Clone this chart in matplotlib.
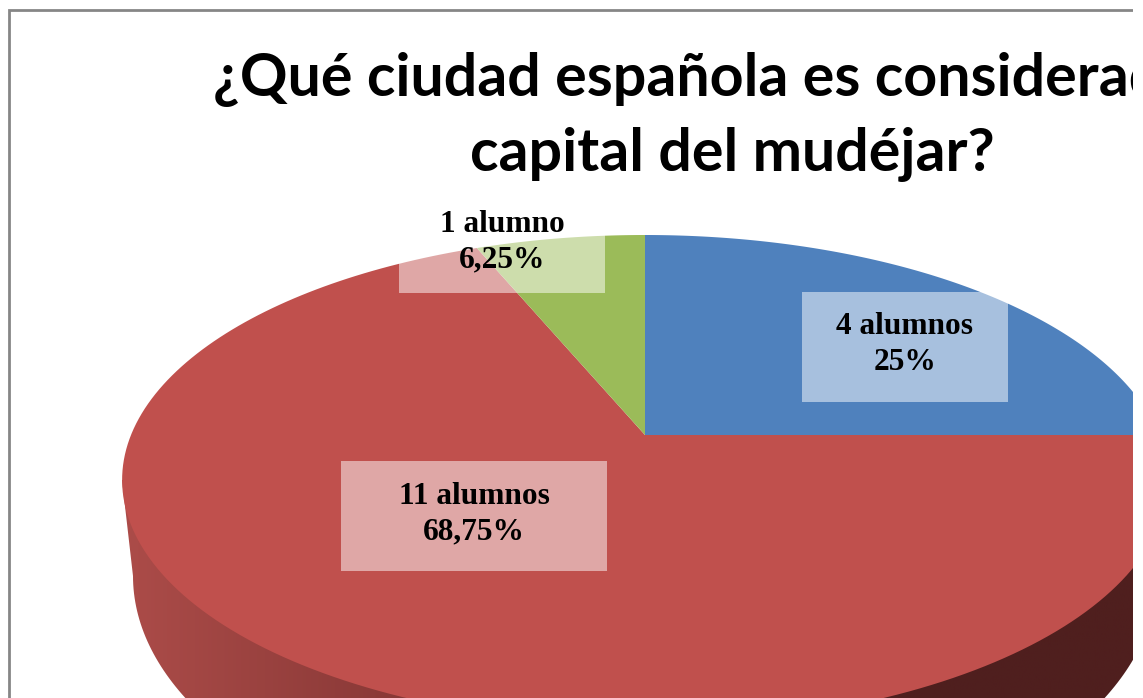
# plot.py
# Cropped 3D pie: question about the capital of mudejar art
import numpy as np
import matplotlib
matplotlib.use('Agg')
import matplotlib.pyplot as plt
from matplotlib.colors import LinearSegmentedColormap
from matplotlib.patches import Polygon, Rectangle

TITLE      = '¿Qué ciudad española es considerada la\ncapital del mudéjar?'
ALUMNOS    = [4, 11, 1]
COUNT_TEXT = ['4 alumnos', '11 alumnos', '1 alumno']
PCT_TEXT   = ['25%', '68,75%', '6,25%']
COLORS     = ['#4F81BD', '#C0504D', '#9BBB59']

# label boxes, pixels: left, top, width, height
BOXES = [(802, 292, 206, 110), (341, 461, 266, 110), (399, 183, 206, 110)]
# vertical text centre of the two lines in each box
TEXT_Y = [(327, 362), (496, 532), (224, 260)]

# pie geometry in pixels
APEX_X, APEX_Y = 645, 435
HALF_W = 514
K = 90 / 490
B = 200 * (1 + K)
WALL_CY, WALL_RX, WALL_RY = 576, 512, 277


def disc(theta):
    # theta clockwise from 12 o'clock; far edge of the disc is foreshortened
    u, v = np.sin(theta), np.cos(theta)
    w = 1 + K * v
    return APEX_X + HALF_W * u / w, APEX_Y - B * v / w


fig = plt.figure(figsize=(11.43, 6.98), dpi=100, facecolor='white')
ax = fig.add_axes([0, 0, 1133 / 1143, 1])
ax.axis('off')

# ── side wall ────────────────────────────────────────────────────────────────
t = np.linspace(np.pi, 0, 200)
wall_x = np.r_[122, APEX_X + WALL_RX * np.cos(t), 1168]
wall_y = np.r_[480, WALL_CY + WALL_RY * np.sin(t), 480]
wall_cmap = LinearSegmentedColormap.from_list('wall', [
    (0.0, '#AC4C49'), (0.27, '#883836'), (0.75, '#4F1F1E'), (1.0, '#4F1F1E')])
img = ax.imshow(np.linspace(0, 1, 512)[None, :], cmap=wall_cmap, aspect='auto',
                extent=(122, 1168, 698, 400), zorder=1)
img.set_clip_path(Polygon(np.c_[wall_x, wall_y], transform=ax.transData))

# ── top surface ──────────────────────────────────────────────────────────────
start = 0.0
total = sum(ALUMNOS)
for val, col in zip(ALUMNOS, COLORS):
    end = start + val / total * 2 * np.pi
    x, y = disc(np.linspace(start, end, 200))
    ax.fill(np.r_[APEX_X, x], np.r_[APEX_Y, y], color=col, lw=0, zorder=2)
    start = end

# ── data labels ──────────────────────────────────────────────────────────────
for (bx, by, bw, bh), (y1, y2), count, pct in zip(BOXES, TEXT_Y, COUNT_TEXT, PCT_TEXT):
    ax.add_patch(Rectangle((bx, by), bw, bh, facecolor='white', alpha=0.5,
                           lw=0, zorder=3))
    ax.text(bx + bw / 2, y1, count, family='Liberation Serif',
            weight='bold', fontsize=22.6, ha='center', va='center', zorder=4)
    ax.text(bx + bw / 2, y2, pct, family='Liberation Serif',
            weight='bold', fontsize=22.6, ha='center', va='center', zorder=4)

# ── title and chart frame ────────────────────────────────────────────────────
ax.text(732, 117, TITLE, family='Lato', weight='bold', fontsize=42.6,
        ha='center', va='center', linespacing=1.47, clip_on=True, zorder=5)
ax.plot([8.5, 8.5, 1133], [698, 9.5, 9.5], color='#868686', lw=2, zorder=5,
        solid_joinstyle='miter')

ax.set_xlim(0, 1133)
ax.set_ylim(698, 0)
fig.savefig('out.png', dpi=100)
